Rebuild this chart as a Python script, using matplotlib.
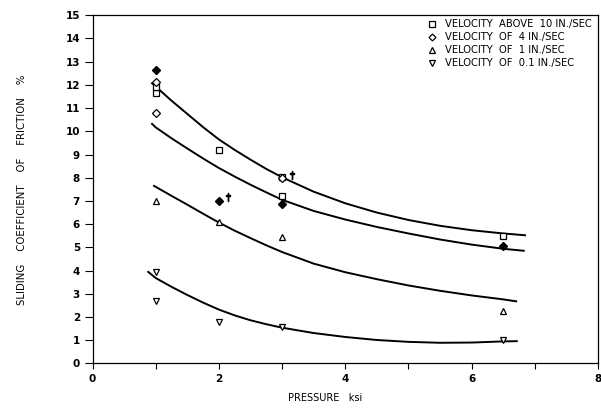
import matplotlib
matplotlib.use("Agg")
import matplotlib.pyplot as plt
from matplotlib.lines import Line2D

# ---- data ----
sq_x = [1, 1, 2, 3, 3, 6.5]
sq_y = [11.65, 11.93, 9.2, 8.05, 7.2, 5.5]
od_x = [1, 1, 3]
od_y = [12.14, 10.78, 8.0]
fd_x = [1, 2, 3, 6.5]
fd_y = [12.65, 7.0, 6.85, 5.05]
flag_x = [2.15, 3.15]
flag_y = [7.18, 8.11]
tri_x = [1, 2, 3, 6.5]
tri_y = [7.0, 6.1, 5.45, 2.25]
dtri_x = [1, 1, 2, 3, 6.5]
dtri_y = [3.95, 2.68, 1.8, 1.58, 1.0]

c1_x = [0.93, 1.0, 1.25, 1.5, 1.75, 2.0, 2.25, 2.5, 2.75, 3.0, 3.5, 4.0, 4.5, 5.0, 5.5, 6.0, 6.5, 6.86]
c1_y = [12.1, 11.93, 11.32, 10.75, 10.18, 9.65, 9.2, 8.78, 8.38, 8.02, 7.4, 6.9, 6.5, 6.18, 5.93, 5.74, 5.6, 5.52]
c2_x = [0.93, 1.0, 1.25, 1.5, 1.75, 2.0, 2.25, 2.5, 2.75, 3.0, 3.5, 4.0, 4.5, 5.0, 5.5, 6.0, 6.5, 6.84]
c2_y = [10.35, 10.17, 9.7, 9.26, 8.83, 8.42, 8.05, 7.7, 7.37, 7.05, 6.57, 6.2, 5.88, 5.6, 5.34, 5.12, 4.94, 4.85]
c3_x = [0.96, 1.25, 1.5, 1.75, 2.0, 2.25, 2.5, 2.75, 3.0, 3.5, 4.0, 4.5, 5.0, 5.5, 6.0, 6.5, 6.72]
c3_y = [7.67, 7.22, 6.84, 6.45, 6.07, 5.72, 5.4, 5.09, 4.8, 4.3, 3.93, 3.63, 3.36, 3.13, 2.93, 2.76, 2.67]
c4_x = [0.87, 1.0, 1.25, 1.5, 1.75, 2.0, 2.25, 2.5, 2.75, 3.0, 3.5, 4.0, 4.5, 5.0, 5.5, 6.0, 6.5, 6.73]
c4_y = [3.97, 3.68, 3.3, 2.95, 2.62, 2.32, 2.07, 1.86, 1.69, 1.54, 1.31, 1.14, 1.01, 0.93, 0.89, 0.9, 0.95, 0.96]

legend_labels = ["VELOCITY  ABOVE  10 IN./SEC", "VELOCITY  OF  4 IN./SEC",
                 "VELOCITY  OF  1 IN./SEC", "VELOCITY  OF  0.1 IN./SEC"]
x_ticks = [0, 1, 2, 3, 4, 5, 6, 7, 8]
x_labels = ["0", "", "2", "", "4", "", "6", "", "8"]
y_ticks = list(range(0, 16))

plt.rcParams['font.family'] = ['DejaVu Sans']
fig = plt.figure(figsize=(6.01, 4.13), dpi=100)
ax = fig.add_axes([0.154, 0.12, 0.841, 0.843])

for cx, cy in [(c1_x, c1_y), (c2_x, c2_y), (c3_x, c3_y), (c4_x, c4_y)]:
    ax.plot(cx, cy, color='black', lw=1.4, solid_capstyle='butt', solid_joinstyle='round')

mk = dict(linestyle='none', markerfacecolor='white', markeredgecolor='black',
          markeredgewidth=0.9, color='black')
ax.plot(sq_x, sq_y, marker='s', markersize=5, **mk)
ax.plot(od_x, od_y, marker='D', markersize=3.8, **mk)
ax.plot(fd_x, fd_y, marker='D', markersize=4.2, linestyle='none', color='black')
ax.plot(tri_x, tri_y, marker='^', markersize=5, **mk)
ax.plot(dtri_x, dtri_y, marker='v', markersize=5, **mk)
ax.plot(flag_x, flag_y, marker=r'$\dagger$', markersize=6, linestyle='none', color='black')

ax.set_xlim(0, 8)
ax.set_ylim(0, 15)
ax.set_xticks(x_ticks)
ax.set_xticklabels(x_labels)
ax.set_yticks(y_ticks)
ax.tick_params(axis='x', direction='out', length=4, width=0.8, labelsize=7.5)
ax.tick_params(axis='y', direction='out', length=6, width=0.8, labelsize=7.5, pad=3)
for t in ax.get_xticklabels() + ax.get_yticklabels():
    t.set_fontweight('bold')
for s in ax.spines.values():
    s.set_linewidth(0.9)

ax.set_xlabel("PRESSURE   ksi", fontsize=7)
ax.xaxis.set_label_coords(0.46, -0.085)
ax.set_ylabel("SLIDING    COEFFICIENT    OF    FRICTION    %", fontsize=7.3)
ax.yaxis.set_label_coords(-0.13, 0.5)

handles = [
    Line2D([], [], marker='s', markersize=4.5, **mk),
    Line2D([], [], marker='D', markersize=3.5, **mk),
    Line2D([], [], marker='^', markersize=4.5, **mk),
    Line2D([], [], marker='v', markersize=4.5, **mk),
]
ax.legend(handles, legend_labels, loc='upper right', frameon=False, fontsize=7.2,
          handlelength=0.8, handletextpad=0.9, labelspacing=0.3,
          borderaxespad=0.0, bbox_to_anchor=(0.995, 1.0))

fig.savefig("out.png", dpi=100)
